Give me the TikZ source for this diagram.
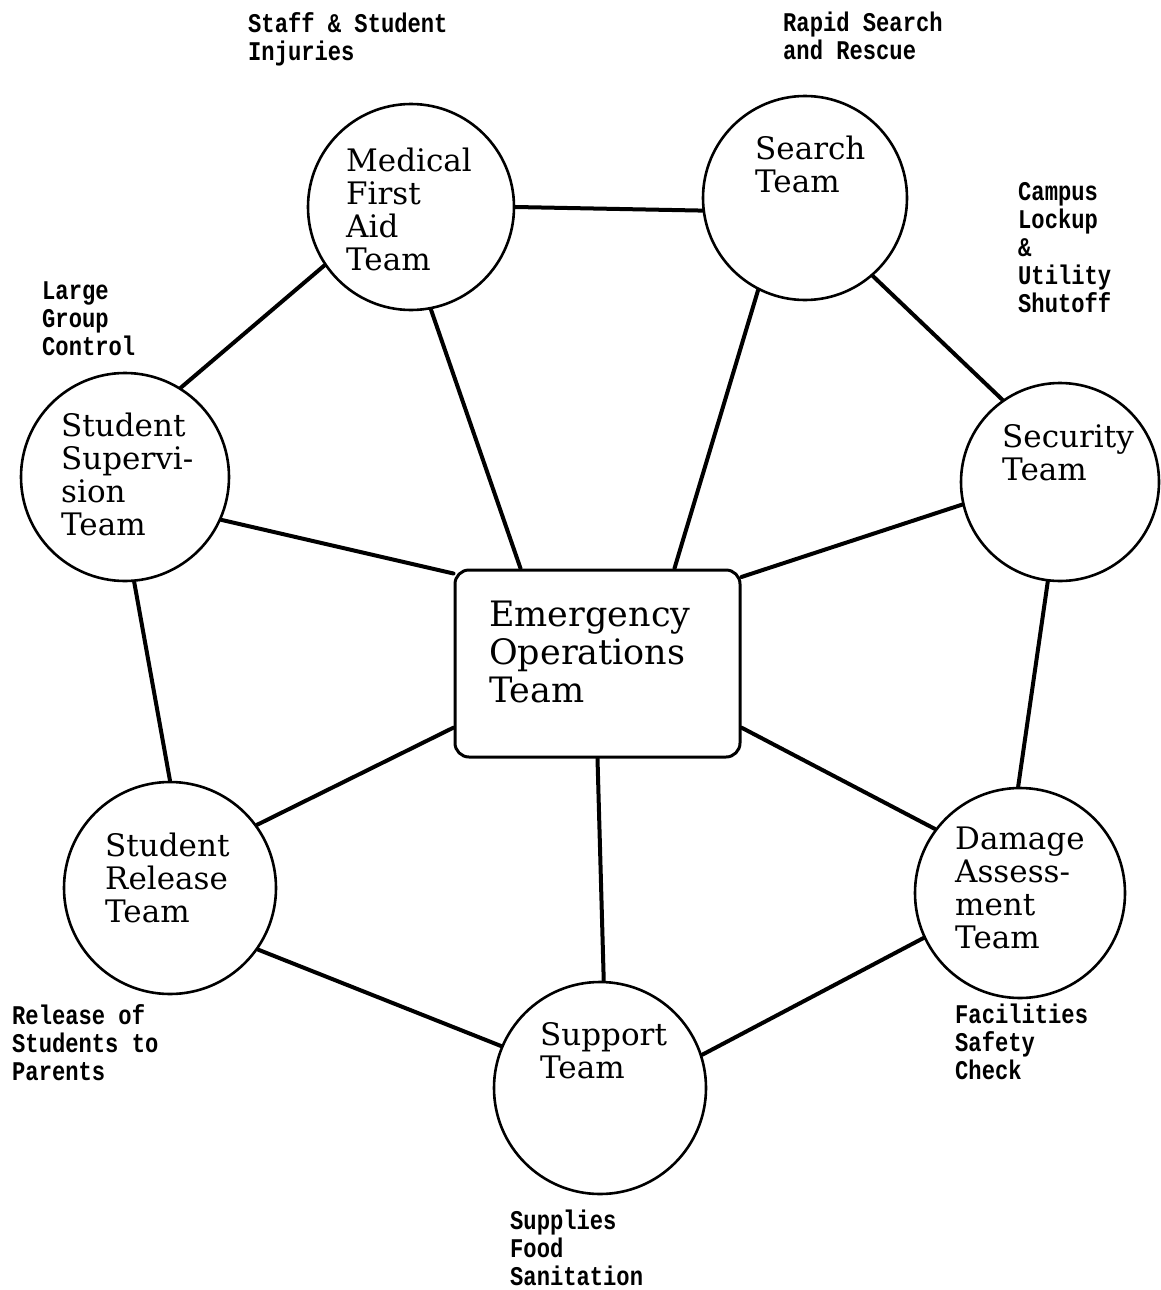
\documentclass[tikz,border=0pt]{standalone}
\usepackage{fontspec}
\setmainfont{DejaVu Serif}
\newfontfamily\notafont[FakeStretch=0.82]{Liberation Mono}

\begin{document}
\begin{tikzpicture}[x=1pt,y=-1pt,
    equipo/.style={circle,draw,line width=2.6pt,minimum size=#1,inner sep=0pt},
    nombre/.style={anchor=north west,align=left,inner sep=0pt,
      font=\fontsize{31}{33}\selectfont},
    nota/.style={anchor=north west,align=left,inner sep=0pt,
      font=\notafont\bfseries\fontsize{27}{28}\selectfont},
    enlace/.style={line width=4pt,line cap=round}]
  % marco
  \useasboundingbox (0,0) rectangle (1161,1290);

  %—————— Equipos ———————————————————————————————————————————————————————
  \node[equipo=206pt] (med)    at (411,207)  {};
  \node[equipo=204pt] (search) at (805,198)  {};
  \node[equipo=198pt] (sec)    at (1060,482) {};
  \node[equipo=208pt] (sup)    at (125,477)  {};
  \node[equipo=212pt] (rel)    at (170,888)  {};
  \node[equipo=210pt] (dmg)    at (1020,893) {};
  \node[equipo=212pt] (spt)    at (600,1088) {};
  % centro de operaciones
  \node[draw,rounded corners=14pt,line width=3pt,minimum width=285pt,
    minimum height=187pt] (eot) at (597.5,663.5) {};

  % nombres dentro de cada equipo
  \node[nombre] (medtxt)    at (346,148)  {Medical\\First\\Aid\\Team};
  \node[nombre] (searchtxt) at (755,136)  {Search\\Team};
  \node[nombre] (sectxt)    at (1002,424) {Security\\Team};
  \node[nombre] (suptxt)    at (61,413)   {Student\\Supervi-\\sion\\Team};
  \node[nombre] (reltxt)    at (105,833)  {Student\\Release\\Team};
  \node[nombre] (dmgtxt)    at (955,827)  {Damage\\Assess-\\ment\\Team};
  \node[nombre] (spttxt)    at (540,1022) {Support\\Team};
  \node[nombre,font=\fontsize{35}{38}\selectfont] (eottxt) at (489,601)
    {Emergency\\Operations\\Team};

  %—————— Tareas ————————————————————————————————————————————————————————
  \node[nota] (medtask)    at (248,12)   {Staff \& Student\\Injuries};
  \node[nota] (searchtask) at (783,12)   {Rapid Search\\and Rescue};
  \node[nota] (sectask)    at (1018,182) {Campus\\Lockup\\\&\\Utility\\Shutoff};
  \node[nota] (suptask)    at (42,282)   {Large\\Group\\Control};
  \node[nota] (reltask)    at (12,1004)  {Release of\\Students to\\Parents};
  \node[nota] (dmgtask)    at (955,1004) {Facilities\\Safety\\Check};
  \node[nota] (spttask)    at (510,1210) {Supplies\\Food\\Sanitation};

  %—————— Enlaces ———————————————————————————————————————————————————————
  % anillo exterior
  \draw[enlace] (med.0)    -- (search.187);
  \draw[enlace] (med.214)  -- (sup.58);
  \draw[enlace] (search.311) -- (sec.125);
  \draw[enlace] (sec.263)  -- (dmg.91);
  \draw[enlace] (sup.275)  -- (rel.90);
  \draw[enlace] (rel.325)  -- (spt.157);
  \draw[enlace] (dmg.205)  -- (spt.18);
  % radios hacia el centro
  \draw[enlace] (med.-79)  -- (eot.129);
  \draw[enlace] (search.243) -- (eot.51);
  \draw[enlace] (sec.193)  -- (eot.31);
  \draw[enlace] (sup.336)  -- (eot.148);
  \draw[enlace] (rel.36)   -- (eot.204);
  \draw[enlace] (eot.336)  -- (dmg.143);
  \draw[enlace] (eot.270)  -- (spt.88);
\end{tikzpicture}
\end{document}
